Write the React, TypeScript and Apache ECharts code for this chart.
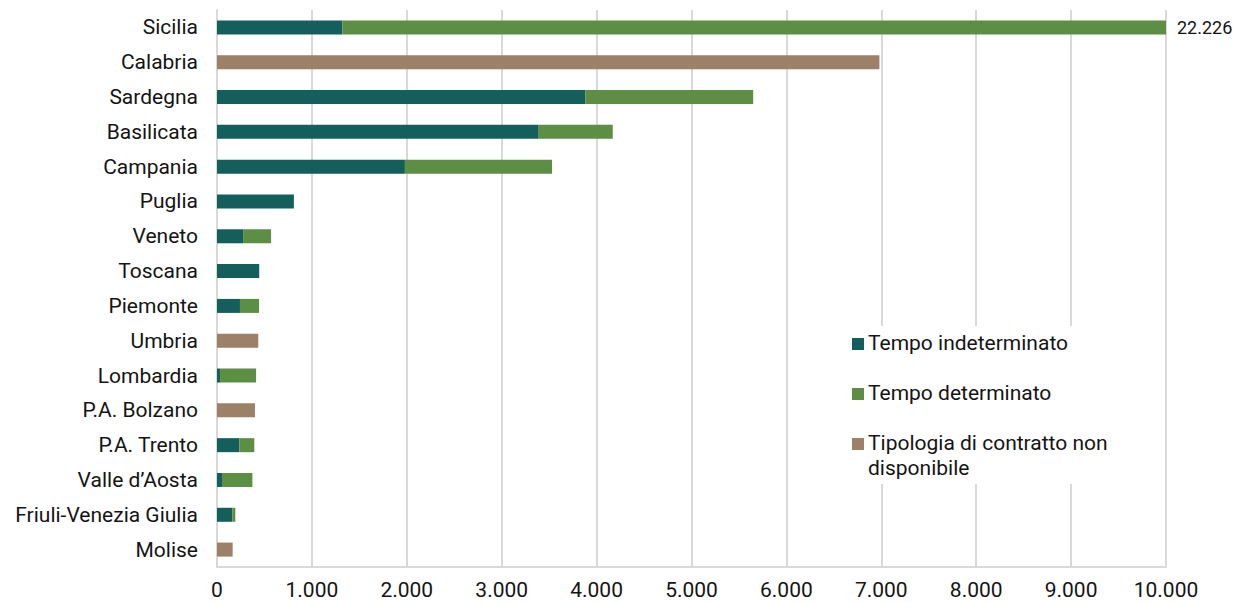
import React, { useEffect, useRef } from "react";
import * as echarts from "echarts";

const categories = [
  "Sicilia", "Calabria", "Sardegna", "Basilicata", "Campania", "Puglia", "Veneto", "Toscana",
  "Piemonte", "Umbria", "Lombardia", "P.A. Bolzano", "P.A. Trento", "Valle d’Aosta",
  "Friuli-Venezia Giulia", "Molise",
];
const indeterminato = [1320, 0, 3880, 3390, 1980, 810, 275, 445, 242, 0, 32, 0, 235, 53, 162, 0];
const determinato = [20906, 0, 1770, 780, 1550, 0, 295, 0, 201, 0, 380, 0, 158, 320, 31, 0];
const nonDisponibile = [0, 6980, 0, 0, 0, 0, 0, 0, 0, 435, 0, 400, 0, 0, 0, 165];
const xTicks = [0, 1000, 2000, 3000, 4000, 5000, 6000, 7000, 8000, 9000, 10000];
const seriesNames = ["Tempo indeterminato", "Tempo determinato", "Tipologia di contratto non disponibile"];
const colors = ["#145e5c", "#5c8e44", "#9d8068"];

const fmt = (v: number) => String(Math.round(v)).replace(/\B(?=(\d{3})+(?!\d))/g, ".");

export default function App() {
  const ref = useRef<HTMLDivElement>(null);
  useEffect(() => {
    const chart = echarts.init(ref.current!, undefined, { renderer: "svg" });
    const font = "Roboto, 'Noto Sans', sans-serif";
    const fs = 21;
    const txt = "#141414";
    const totals = categories.map((_, i) => indeterminato[i] + determinato[i] + nonDisponibile[i]);
    const mk = (vals: number[]) => vals.map((v) => (v === 0 ? null : v));
    const detData = determinato.map((v, i) => {
      if (v === 0) return null;
      if (totals[i] > xTicks[xTicks.length - 1]) {
        return {
          value: v,
          label: {
            show: true,
            position: "right",
            distance: 11,
            formatter: () => fmt(totals[i]),
            fontSize: 18,
            fontFamily: font,
            color: txt,
          },
        };
      }
      return v;
    });
    const legendX = 852;
    const legendYs = [343, 393, 443];
    const graphic: any[] = [
      { type: "rect", shape: { x: 838, y: 326, width: 300, height: 158 }, style: { fill: "#ffffff" }, z: 50 },
    ];
    seriesNames.forEach((name, i) => {
      graphic.push({
        type: "rect",
        shape: { x: legendX, y: legendYs[i] - 5, width: 12, height: 12 },
        style: { fill: colors[i] },
        z: 51,
      });
      graphic.push({
        type: "text",
        x: legendX + 16,
        y: legendYs[i] - 12.5,
        style: {
          text: i === 2 ? "Tipologia di contratto non\ndisponibile" : name,
          fontSize: fs,
          fontFamily: font,
          fill: txt,
          lineHeight: 25,
          textVerticalAlign: "top",
        },
        z: 51,
      });
    });
    chart.setOption({
      animation: false,
      grid: { left: 217, right: 72, top: 10, bottom: 36, containLabel: false },
      legend: { show: false },
      xAxis: {
        type: "value",
        min: 0,
        max: 10000,
        interval: 1000,
        axisLine: { show: true, lineStyle: { color: "#d9d9d9", width: 2 } },
        axisTick: { show: false },
        splitLine: { show: true, lineStyle: { color: "#d9d9d9", width: 2 } },
        axisLabel: { formatter: (v: number) => fmt(v), fontSize: fs, fontFamily: font, color: txt, margin: 12 },
      },
      yAxis: {
        type: "category",
        data: categories,
        inverse: true,
        axisLine: { show: true, lineStyle: { color: "#d9d9d9", width: 2 } },
        axisTick: { show: false },
        axisLabel: { fontSize: fs, fontFamily: font, color: txt, margin: 19 },
      },
      series: [
        { name: seriesNames[0], type: "bar", stack: "t", data: mk(indeterminato), barWidth: 14, itemStyle: { color: colors[0] } },
        { name: seriesNames[1], type: "bar", stack: "t", data: detData, barWidth: 14, itemStyle: { color: colors[1] } },
        { name: seriesNames[2], type: "bar", stack: "t", data: mk(nonDisponibile), barWidth: 14, itemStyle: { color: colors[2] } },
      ],
      graphic,
    });
    return () => chart.dispose();
  }, []);
  return <div ref={ref} style={{ position: "absolute", left: 0, top: 0, width: 1238, height: 603 }} />;
}
